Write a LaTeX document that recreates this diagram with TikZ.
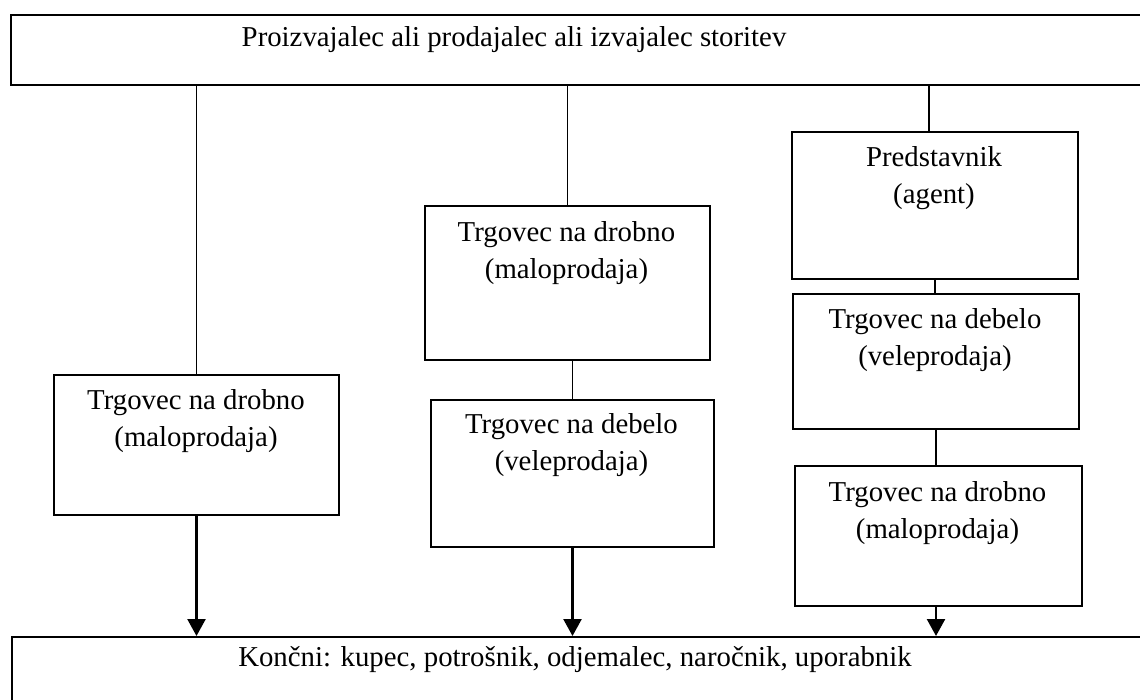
\documentclass[tikz,border=0pt]{standalone}
\usepackage{fontspec}
\setmainfont{Liberation Serif}
\usetikzlibrary{arrows.meta}
\begin{document}
\begin{tikzpicture}[x=1pt,y=-1pt,
  box/.style={draw, line width=2pt, inner sep=0pt, anchor=north west},
  lbl/.style={font=\fontsize{28.8}{36.7}\selectfont, align=center, inner sep=0pt},
  conn/.style={line width=1.7pt},
  arr/.style={line width=2.4pt, -{Triangle[length=17pt,width=18pt]}}]
\useasboundingbox (0,0) rectangle (1140,700);
\fill[white] (0,0) rectangle (1140,700);
% boxes
\node[box, minimum width=1160pt, minimum height=70pt] (top) at (10,14) {};
\node[box, minimum width=1160pt, minimum height=90pt] (bot) at (11,636) {};
\node[box, minimum width=285pt, minimum height=140pt] (b1) at (53,374) {};
\node[box, minimum width=285pt, minimum height=154pt] (b2a) at (424,205) {};
\node[box, minimum width=283pt, minimum height=147pt] (b2b) at (430,399) {};
\node[box, minimum width=286pt, minimum height=147pt] (b3a) at (791,131) {};
\node[box, minimum width=286pt, minimum height=135pt] (b3b) at (792,293) {};
\node[box, minimum width=287pt, minimum height=140pt] (b3c) at (794,465) {};
% texts
\node[lbl] (ttop) at (514,40) {Proizvajalec ali prodajalec ali izvajalec storitev};
\node[lbl] (tbot) at (575,660) {Končni: kupec, potrošnik, odjemalec, naročnik, uporabnik};
\node[lbl] (t1) at (196,421) {Trgovec na drobno\\(maloprodaja)};
\node[lbl] (t2a) at (566.5,253) {Trgovec na drobno\\(maloprodaja)};
\node[lbl] (t2b) at (571.5,445) {Trgovec na debelo\\(veleprodaja)};
\node[lbl] (t3a) at (934,178) {Predstavnik\\(agent)};
\node[lbl] (t3b) at (935,340) {Trgovec na debelo\\(veleprodaja)};
\node[lbl] (t3c) at (937.5,513) {Trgovec na drobno\\(maloprodaja)};
% connectors
\draw[conn] (b1.north |- top.south) -- (b1.north);
\draw[arr] (b1.south) -- (b1.south |- bot.north);
\draw[conn] (b2a.north |- top.south) -- (b2a.north);
\draw[conn] (b2b.north |- b2a.south) -- (b2b.north);
\draw[arr] (b2b.south) -- (b2b.south |- bot.north);
\draw[conn] ([xshift=-6pt]b3a.north |- top.south) -- ([xshift=-6pt]b3a.north);
\draw[conn] (b3a.south) -- (b3a.south |- b3b.north);
\draw[conn] (b3b.south) -- (b3b.south |- b3c.north);
\draw[arr] (b3b.south |- b3c.south) -- (b3b.south |- bot.north);
\end{tikzpicture}
\end{document}
